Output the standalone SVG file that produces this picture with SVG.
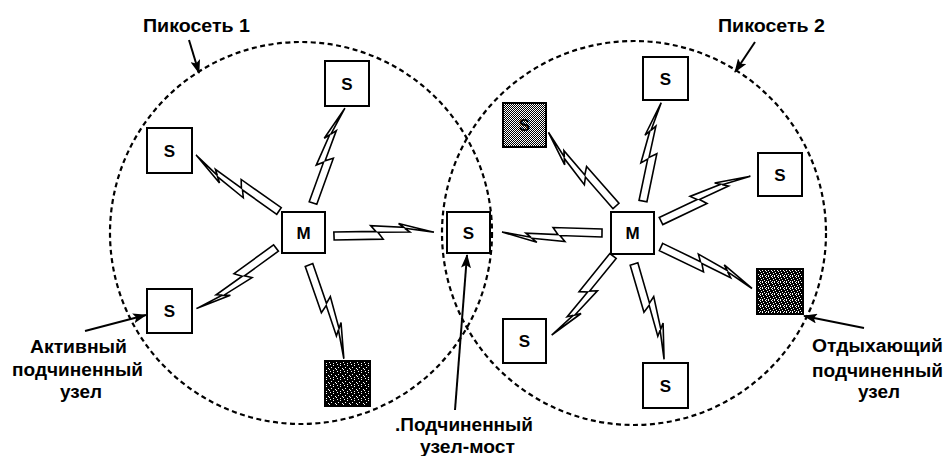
<svg xmlns="http://www.w3.org/2000/svg" width="946" height="456" viewBox="0 0 946 456">
<style>
 .ring{fill:none;stroke:#000;stroke-width:2.2;stroke-dasharray:5 3.5}
 .box{fill:#fff;stroke:#000;stroke-width:2}
 .dark{stroke:#000;stroke-width:2}
 .nt{font-family:"Liberation Sans",Arial,sans-serif;font-weight:bold;font-size:17px;text-anchor:middle;fill:#000}
 .lbl{font-family:"Liberation Sans",Arial,sans-serif;font-weight:bold;font-size:18px;fill:#000}
 .bolt{fill:#fff;stroke:#000;stroke-width:1.6;stroke-linejoin:miter}
 .ptr{stroke:#000;stroke-width:2;fill:none;marker-end:url(#ah)}
</style>
<defs>
 <marker id="ah" markerUnits="userSpaceOnUse" markerWidth="14" markerHeight="10" refX="13" refY="5" orient="auto"><path d="M0,0 L14,5 L0,10 L3,5 Z" fill="#000"/></marker>
 <path id="bolt" d="M0,-4 L42,-3 L37,-9 L70,-6 L65,-10 L100,0 L71,-5 L76,-1 L44,-2 L49,5 L0,4 Z"/>
 <pattern id="dith50" width="2" height="2" patternUnits="userSpaceOnUse"><rect width="2" height="2" fill="#000"/><rect width="1" height="1" fill="#fff"/><rect x="1" y="1" width="1" height="1" fill="#fff"/></pattern>
 <pattern id="dith20" width="7" height="7" patternUnits="userSpaceOnUse"><rect width="7" height="7" fill="#000"/><rect x="1" y="0" width="1" height="1" fill="#fff"/><rect x="4" y="1" width="1" height="1" fill="#fff"/><rect x="2" y="3" width="1" height="1" fill="#fff"/><rect x="6" y="4" width="1" height="1" fill="#fff"/><rect x="0" y="5" width="1" height="1" fill="#fff"/><rect x="4" y="6" width="1" height="1" fill="#fff"/></pattern>
 <pattern id="dith35" width="6" height="6" patternUnits="userSpaceOnUse"><rect width="6" height="6" fill="#000"/><rect x="0" y="0" width="1" height="1" fill="#fff"/><rect x="3" y="0" width="1" height="1" fill="#fff"/><rect x="1" y="2" width="1" height="1" fill="#fff"/><rect x="4" y="1" width="1" height="1" fill="#fff"/><rect x="5" y="3" width="1" height="1" fill="#fff"/><rect x="2" y="4" width="1" height="1" fill="#fff"/><rect x="0" y="5" width="1" height="1" fill="#fff"/><rect x="4" y="5" width="1" height="1" fill="#fff"/></pattern>
</defs>

<g id="piconets">
 <circle class="ring" cx="301" cy="233" r="191"/>
 <circle class="ring" cx="634" cy="233" r="192"/>
</g>

<g id="connectors">
 <use href="#bolt" class="bolt" transform="translate(279,211) rotate(-146)"/>
 <use href="#bolt" class="bolt" transform="translate(313,203) rotate(-71.4)"/>
 <use href="#bolt" class="bolt" transform="translate(334,236) rotate(-2.2)"/>
 <use href="#bolt" class="bolt" transform="translate(276,248) rotate(142.7)"/>
 <use href="#bolt" class="bolt" transform="translate(309,265) rotate(69.6)"/>
 <use href="#bolt" class="bolt" transform="translate(602,233) rotate(-179.4)"/>
 <use href="#bolt" class="bolt" transform="translate(616,206) rotate(-132.5)"/>
 <use href="#bolt" class="bolt" transform="translate(643,201) rotate(-79.5)"/>
 <use href="#bolt" class="bolt" transform="translate(661,221) rotate(-26.6)"/>
 <use href="#bolt" class="bolt" transform="translate(661,247) rotate(24.5)"/>
 <use href="#bolt" class="bolt" transform="translate(613,256) rotate(127.8)"/>
 <use href="#bolt" class="bolt" transform="translate(634,264) rotate(72.5)"/>
</g>

<g id="L-S-top"><rect class="box" x="325" y="61" width="44" height="45"/><text class="nt" x="347" y="90">S</text></g>
<g id="L-S-left"><rect class="box" x="147" y="128" width="45" height="45"/><text class="nt" x="169.5" y="157">S</text></g>
<g id="L-M"><rect class="box" x="282" y="212" width="43" height="41"/><text class="nt" x="303.5" y="239">M</text></g>
<g id="L-S-active"><rect class="box" x="147" y="289" width="45" height="44"/><text class="nt" x="169.5" y="317">S</text></g>
<g id="L-S-parked"><rect class="dark" fill="url(#dith20)" x="325" y="361" width="45" height="45"/></g>
<g id="S-bridge"><rect class="box" x="447" y="212" width="43" height="41"/><text class="nt" x="468.5" y="239">S</text></g>
<g id="R-M"><rect class="box" x="611" y="212" width="43" height="42"/><text class="nt" x="632.5" y="239">M</text></g>
<g id="R-S-top"><rect class="box" x="643" y="57" width="45" height="43"/><text class="nt" x="665.5" y="85">S</text></g>
<g id="R-S-parked-top"><rect class="dark" fill="url(#dith50)" x="503" y="103" width="43" height="44"/><text class="nt" x="524.5" y="131" fill="#111">S</text></g>
<g id="R-S-right"><rect class="box" x="758" y="153" width="44" height="43"/><text class="nt" x="780" y="181">S</text></g>
<g id="R-S-parked-right"><rect class="dark" fill="url(#dith35)" x="757" y="269" width="46" height="45"/></g>
<g id="R-S-botleft"><rect class="box" x="503" y="319" width="43" height="44"/><text class="nt" x="524.5" y="347">S</text></g>
<g id="R-S-bot"><rect class="box" x="643" y="363" width="45" height="45"/><text class="nt" x="665.5" y="392">S</text></g>

<g id="labels">
 <line class="ptr" x1="189" y1="40" x2="199" y2="73"/>
 <line class="ptr" x1="755" y1="42" x2="735" y2="72"/>
 <line class="ptr" x1="85" y1="331" x2="146" y2="315"/>
 <line class="ptr" x1="864" y1="328" x2="804" y2="316"/>
 <line class="ptr" x1="455" y1="410" x2="467" y2="255"/>
 <text class="lbl" x="143" y="32" textLength="107" lengthAdjust="spacingAndGlyphs">Пикосеть 1</text>
 <text class="lbl" x="718" y="32" textLength="107" lengthAdjust="spacingAndGlyphs">Пикосеть 2</text>
 <text class="lbl" x="30" y="353" textLength="97" lengthAdjust="spacingAndGlyphs">Активный</text>
 <text class="lbl" x="12" y="376" textLength="131" lengthAdjust="spacingAndGlyphs">подчиненный</text>
 <text class="lbl" x="60" y="398" textLength="42" lengthAdjust="spacingAndGlyphs">узел</text>
 <text class="lbl" x="812" y="352" textLength="131" lengthAdjust="spacingAndGlyphs">Отдыхающий</text>
 <text class="lbl" x="812" y="377" textLength="131" lengthAdjust="spacingAndGlyphs">подчиненный</text>
 <text class="lbl" x="858" y="398" textLength="42" lengthAdjust="spacingAndGlyphs">узел</text>
 <text class="lbl" x="395" y="431" textLength="138" lengthAdjust="spacingAndGlyphs">.Подчиненный</text>
 <text class="lbl" x="420" y="453" textLength="95" lengthAdjust="spacingAndGlyphs">узел-мост</text>
</g>
</svg>
